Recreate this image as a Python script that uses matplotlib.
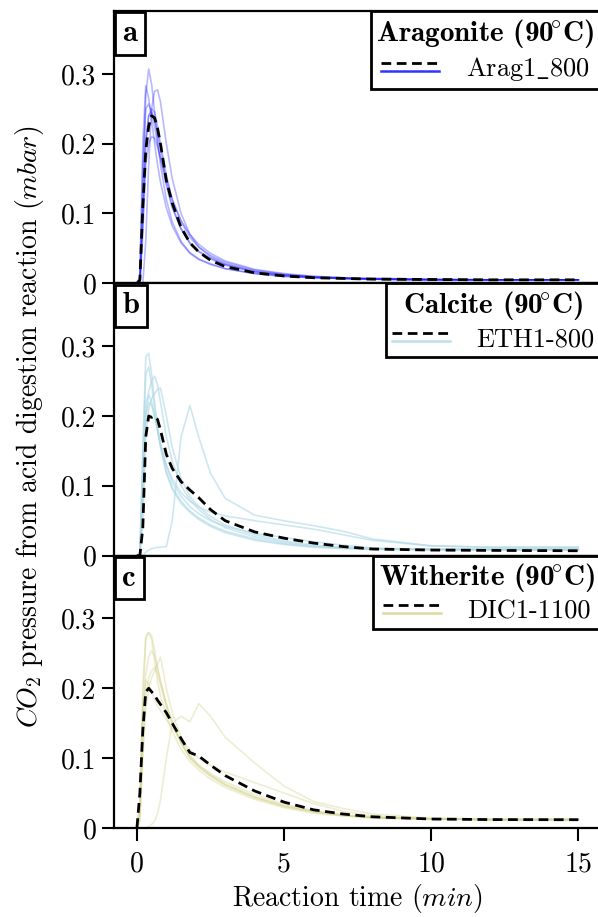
import numpy as np
import matplotlib
matplotlib.use('Agg')
import matplotlib.pyplot as plt
from matplotlib.legend_handler import HandlerBase
from matplotlib.lines import Line2D

plt.rcParams['font.family'] = ['cmr10', 'DejaVu Serif']
plt.rcParams['mathtext.fontset'] = 'cm'
plt.rcParams['axes.formatter.use_mathtext'] = True

# reaction time (min)
t = [0, 0.1, 0.2, 0.3, 0.4, 0.5, 0.6, 0.7, 0.8, 1.0, 1.2, 1.5, 1.8, 2.1, 2.5, 3, 4, 5, 6, 7, 8, 10, 12, 15]

# aragonite replicates (mbar)
arag_mean = [0, 0.005, 0.11, 0.19, 0.225, 0.24, 0.237, 0.222, 0.2, 0.147, 0.115, 0.08, 0.058, 0.045, 0.033, 0.024, 0.015, 0.0105, 0.008, 0.007, 0.006, 0.0055, 0.005, 0.005]
arag_reps = [
    [0, 0.0, 0.12, 0.27, 0.307, 0.285, 0.245, 0.205, 0.17, 0.12, 0.088, 0.06, 0.044, 0.035, 0.028, 0.021, 0.014, 0.01, 0.008, 0.007, 0.006, 0.005, 0.005, 0.005],
    [0, 0.01, 0.2, 0.283, 0.265, 0.235, 0.2, 0.17, 0.145, 0.108, 0.082, 0.058, 0.043, 0.034, 0.027, 0.021, 0.014, 0.01, 0.008, 0.007, 0.006, 0.005, 0.005, 0.005],
    [0, 0, 0.0, 0.06, 0.17, 0.25, 0.275, 0.277, 0.26, 0.2, 0.15, 0.1, 0.07, 0.052, 0.038, 0.028, 0.017, 0.012, 0.009, 0.007, 0.006, 0.005, 0.005, 0.005],
    [0, 0.005, 0.17, 0.25, 0.257, 0.245, 0.225, 0.2, 0.178, 0.14, 0.108, 0.078, 0.058, 0.046, 0.036, 0.027, 0.017, 0.012, 0.009, 0.007, 0.006, 0.005, 0.005, 0.005],
    [0, 0.0, 0.09, 0.2, 0.24, 0.25, 0.245, 0.225, 0.2, 0.155, 0.12, 0.088, 0.066, 0.052, 0.04, 0.03, 0.019, 0.013, 0.01, 0.008, 0.007, 0.006, 0.005, 0.005],
    [0, 0, 0.07, 0.17, 0.2, 0.21, 0.208, 0.195, 0.18, 0.15, 0.12, 0.09, 0.07, 0.056, 0.043, 0.032, 0.02, 0.014, 0.01, 0.008, 0.007, 0.006, 0.005, 0.005],
    [0, 0.0, 0.1, 0.205, 0.24, 0.245, 0.235, 0.215, 0.192, 0.145, 0.11, 0.078, 0.057, 0.045, 0.035, 0.026, 0.016, 0.011, 0.008, 0.007, 0.006, 0.005, 0.005, 0.005],
]

# calcite replicates
calc_mean = [0, 0.0, 0.04, 0.17, 0.2, 0.198, 0.2, 0.195, 0.18, 0.145, 0.125, 0.106, 0.094, 0.083, 0.066, 0.05, 0.034, 0.025, 0.018, 0.013, 0.0095, 0.008, 0.0075, 0.007]
calc_reps = [
    [0, 0.0, 0.15, 0.285, 0.29, 0.26, 0.22, 0.185, 0.158, 0.12, 0.098, 0.078, 0.064, 0.054, 0.044, 0.035, 0.024, 0.017, 0.013, 0.011, 0.01, 0.009, 0.009, 0.009],
    [0, 0, 0.14, 0.26, 0.27, 0.245, 0.21, 0.18, 0.155, 0.118, 0.095, 0.075, 0.062, 0.052, 0.042, 0.033, 0.022, 0.016, 0.012, 0.01, 0.009, 0.008, 0.008, 0.008],
    [0, 0, 0.08, 0.2, 0.235, 0.25, 0.257, 0.245, 0.22, 0.17, 0.135, 0.1, 0.08, 0.066, 0.052, 0.04, 0.027, 0.019, 0.014, 0.011, 0.01, 0.009, 0.009, 0.009],
    [0, 0, 0.05, 0.17, 0.21, 0.225, 0.232, 0.238, 0.24, 0.2, 0.155, 0.11, 0.085, 0.07, 0.056, 0.044, 0.03, 0.021, 0.015, 0.012, 0.01, 0.009, 0.009, 0.009],
    [0, 0, 0.12, 0.22, 0.23, 0.22, 0.2, 0.18, 0.16, 0.13, 0.11, 0.09, 0.078, 0.07, 0.062, 0.057, 0.05, 0.044, 0.038, 0.03, 0.022, 0.014, 0.012, 0.012],
    [0, 0, 0.1, 0.2, 0.22, 0.215, 0.2, 0.18, 0.16, 0.128, 0.105, 0.085, 0.07, 0.06, 0.05, 0.042, 0.032, 0.026, 0.02, 0.015, 0.011, 0.009, 0.009, 0.009],
    [0, 0, 0, 0.005, 0.008, 0.01, 0.011, 0.012, 0.012, 0.013, 0.05, 0.17, 0.215, 0.17, 0.118, 0.082, 0.058, 0.05, 0.043, 0.035, 0.024, 0.014, 0.012, 0.012],
]

# witherite replicates
with_mean = [0, 0.05, 0.14, 0.195, 0.2, 0.195, 0.19, 0.183, 0.177, 0.165, 0.15, 0.128, 0.108, 0.103, 0.09, 0.075, 0.053, 0.037, 0.026, 0.02, 0.016, 0.0128, 0.012, 0.0118]
with_reps = [
    [0, 0.03, 0.2, 0.275, 0.28, 0.275, 0.255, 0.23, 0.21, 0.175, 0.15, 0.122, 0.1, 0.088, 0.075, 0.062, 0.044, 0.031, 0.023, 0.018, 0.015, 0.013, 0.012, 0.012],
    [0, 0.02, 0.15, 0.22, 0.245, 0.254, 0.245, 0.228, 0.21, 0.178, 0.152, 0.122, 0.1, 0.087, 0.074, 0.061, 0.043, 0.031, 0.023, 0.018, 0.015, 0.013, 0.012, 0.012],
    [0, 0.01, 0.1, 0.17, 0.2, 0.215, 0.225, 0.235, 0.245, 0.2, 0.165, 0.13, 0.105, 0.09, 0.076, 0.063, 0.045, 0.032, 0.024, 0.018, 0.015, 0.013, 0.012, 0.012],
    [0, 0.01, 0.12, 0.19, 0.215, 0.225, 0.23, 0.22, 0.205, 0.175, 0.15, 0.122, 0.102, 0.09, 0.078, 0.066, 0.048, 0.034, 0.025, 0.019, 0.015, 0.013, 0.012, 0.012],
    [0, 0.04, 0.17, 0.212, 0.205, 0.195, 0.185, 0.175, 0.168, 0.155, 0.143, 0.127, 0.112, 0.1, 0.09, 0.08, 0.065, 0.05, 0.035, 0.024, 0.017, 0.013, 0.012, 0.012],
    [0, 0.03, 0.18, 0.27, 0.28, 0.27, 0.24, 0.21, 0.19, 0.16, 0.138, 0.113, 0.095, 0.083, 0.07, 0.058, 0.041, 0.029, 0.021, 0.017, 0.014, 0.013, 0.012, 0.012],
    [0, 0, 0, 0, 0.002, 0.005, 0.01, 0.02, 0.04, 0.1, 0.15, 0.16, 0.152, 0.178, 0.16, 0.13, 0.093, 0.06, 0.038, 0.028, 0.02, 0.014, 0.012, 0.012],
]

panel_letters = ['a', 'b', 'c']
deg = '$\\!^{\\circ}$'
titles = ['Aragonite (90' + deg + 'C)', 'Calcite (90' + deg + 'C)', 'Witherite (90' + deg + 'C)']
labels = ['Arag1$\\_$800', 'ETH1-800', 'DIC1-1100']
colors = ['blue', 'lightblue', '#d2d28a']
means = [arag_mean, calc_mean, with_mean]
reps = [arag_reps, calc_reps, with_reps]
plot_alpha = [0.28, 0.6, 0.38]

yticks = [0, 0.1, 0.2, 0.3]
yticklabels = ['0', '0.1', '0.2', '0.3']
xticks = [0, 5, 10, 15]
xticklabels = ['0', '5', '10', '15']


class TwoLines(HandlerBase):
    # dashed mean above, coloured replicate line just below it
    def create_artists(self, legend, orig, xd, yd, w, h, fontsize, trans):
        col, dash = orig
        y = h / 2 - yd
        l1 = Line2D([-xd, w - xd], [y - 3, y - 3], color=col.get_color(), lw=1.8, alpha=0.8)
        l2 = Line2D([-xd, w - xd], [y + 3, y + 3], color='k', ls='--', lw=2, dashes=(3.5, 2))
        l1.set_transform(trans)
        l2.set_transform(trans)
        return [l1, l2]


fig, axes = plt.subplots(3, 1, figsize=(5.98, 9.17), dpi=100, sharex=True)
fig.subplots_adjust(left=0.1906, right=1.004, top=0.988, bottom=0.0971, hspace=0)

for i, ax in enumerate(axes):
    for r in reps[i]:
        rl, = ax.plot(t, r, color=colors[i], alpha=plot_alpha[i], lw=1.2)
    dl, = ax.plot(t, means[i], color='k', ls='--', lw=2, dashes=(3.5, 2))
    ax.set_xlim(-0.78, 15.75)
    ax.set_ylim(0, 0.39)
    ax.set_yticks(yticks)
    ax.set_yticklabels(yticklabels)
    ax.tick_params(axis='y', labelsize=20, length=9, width=1.5, direction='out')
    for s in ax.spines.values():
        s.set_linewidth(1.6)
    if i < 2:
        ax.tick_params(axis='x', length=0)
    else:
        ax.set_xticks(xticks)
        ax.set_xticklabels(xticklabels)
        ax.tick_params(axis='x', labelsize=20, length=9, width=1.5, direction='out', pad=8)

    leg = ax.legend([(rl, dl)], [labels[i]], handler_map={tuple: TwoLines()},
                    loc='upper right', borderaxespad=0, fancybox=False, framealpha=1,
                    edgecolor='k', fontsize=19, title=titles[i],
                    title_fontproperties={'family': 'cmb10', 'size': 21},
                    handlelength=2.2, borderpad=0.22, labelspacing=0.2, handletextpad=1.0)
    leg.get_frame().set_linewidth(2)

    ax.annotate(panel_letters[i], xy=(0, 1), xycoords='axes fraction',
                xytext=(6, -6.5), textcoords='offset points', ha='left', va='top',
                fontsize=22, family='cmb10',
                bbox=dict(boxstyle='square,pad=0.25', fc='white', ec='k', lw=2))

fig.text(0.05, 0.535, '$CO_2$ pressure from acid digestion reaction ($mbar$)',
         rotation=90, ha='center', va='center', fontsize=20)
fig.text(0.597, 0.02, 'Reaction time ($min$)', ha='center', va='center', fontsize=20)

fig.savefig('out.png', dpi=100)
